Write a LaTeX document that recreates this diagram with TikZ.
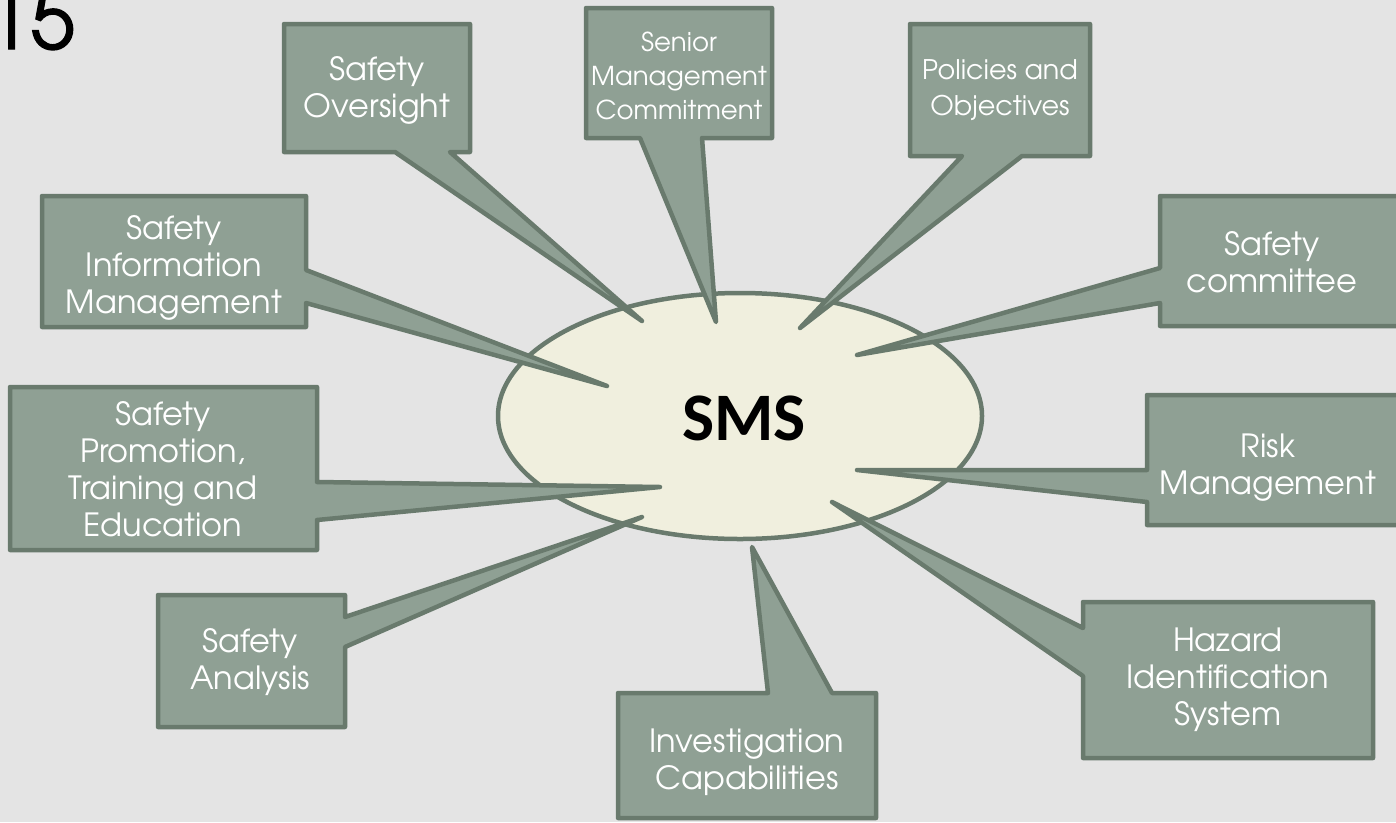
\documentclass[tikz,border=0pt]{standalone}
\usepackage{fontspec}
\usetikzlibrary{shapes.geometric}
\newfontfamily\boxfont{TeX Gyre Adventor}
\newfontfamily\numfont[FakeBold=1.6]{TeX Gyre Adventor}
\newfontfamily\smsfont{Carlito}
\definecolor{bg}{HTML}{E4E4E4}
\definecolor{boxfill}{HTML}{8FA094}
\definecolor{boxline}{HTML}{697A6D}
\definecolor{ovalfill}{HTML}{F0EFDE}
\tikzset{
  bubble/.style={fill=boxfill, draw=boxline, line width=4.5pt, line join=round},
  lbl/.style={text=white, align=center, font=\boxfont\fontsize{32}{37}\selectfont},
  lblsmall/.style={lbl, font=\boxfont\fontsize{26}{34}\selectfont}
}
\begin{document}
\begin{tikzpicture}[x=1pt,y=-1pt]
\fill[bg] (0,0) rectangle (1396,822);
\useasboundingbox (0,0) rectangle (1396,822);
\node[anchor=base west, inner sep=0pt, font=\numfont\fontsize{80}{86}\selectfont] (page) at (-14,49) {15};
% centre
\node[ellipse, draw=boxline, fill=ovalfill, line width=4.5pt, minimum width=484pt, minimum height=246pt, inner sep=0pt] (sms) at (740,416) {};
\node[font=\smsfont\bfseries\fontsize{68}{80}\selectfont] (smstext) at (744,418) {SMS};
% pointer tips
\coordinate (tOversight) at (642,321);
\coordinate (tSenior) at (716,322);
\coordinate (tPolicies) at (800,328);
\coordinate (tCommittee) at (857,355);
\coordinate (tInfo) at (607,386);
\coordinate (tPromotion) at (660,487);
\coordinate (tRisk) at (857,470);
\coordinate (tAnalysis) at (642,517);
\coordinate (tHazard) at (832,502);
\coordinate (tInvest) at (752,547);
% callouts
\draw[bubble] (284,24) -- (470,24) -- (470,152) -- (450,152) -- (tOversight) -- (395,152) -- (284,152) -- cycle;
\draw[bubble] (586,8) -- (772,8) -- (772,138) -- (702,138) -- (tSenior) -- (640,138) -- (586,138) -- cycle;
\draw[bubble] (910,24) -- (1090,24) -- (1090,156) -- (1022,156) -- (tPolicies) -- (962,156) -- (910,156) -- cycle;
\draw[bubble] (1160,196) -- (1402,196) -- (1402,326) -- (1160,326) -- (1160,303) -- (tCommittee) -- (1160,268) -- cycle;
\draw[bubble] (42,196) -- (306,196) -- (306,270) -- (tInfo) -- (306,303) -- (306,327) -- (42,327) -- cycle;
\draw[bubble] (10,387) -- (317,387) -- (317,482) -- (tPromotion) -- (317,520) -- (317,550) -- (10,550) -- cycle;
\draw[bubble] (1147,395) -- (1402,395) -- (1402,525) -- (1147,525) -- (1147,502) -- (tRisk) -- (1147,470) -- cycle;
\draw[bubble] (158,595) -- (345,595) -- (345,617) -- (tAnalysis) -- (345,647) -- (345,727) -- (158,727) -- cycle;
\draw[bubble] (1083,602) -- (1373,602) -- (1373,758) -- (1083,758) -- (1083,676) -- (tHazard) -- (1083,628) -- cycle;
\draw[bubble] (618,693) -- (768,693) -- (tInvest) -- (832,693) -- (876,693) -- (876,818) -- (618,818) -- cycle;
% labels
\node[lbl] (oversight) at (377,90) {Safety\\Oversight};
\node[lblsmall] (senior) at (679,76) {Senior\\Management\\Commitment};
\node[lbl, font=\boxfont\fontsize{27}{36}\selectfont] (policies) at (1000,90) {Policies and\\Objectives};
\node[lbl] (committee) at (1272,262) {Safety\\committee};
\node[lbl] (info) at (174,268) {Safety\\Information\\Management};
\node[lbl] (promotion) at (163,469) {Safety\\Promotion,\\Training and\\Education};
\node[lbl] (risk) at (1268,468) {Risk\\Management};
\node[lbl] (analysis) at (250,662) {Safety\\Analysis};
\node[lbl] (hazard) at (1228,680) {Hazard\\Identification\\System};
\node[lbl] (invest) at (747,762) {Investigation\\Capabilities};
\end{tikzpicture}
\end{document}
